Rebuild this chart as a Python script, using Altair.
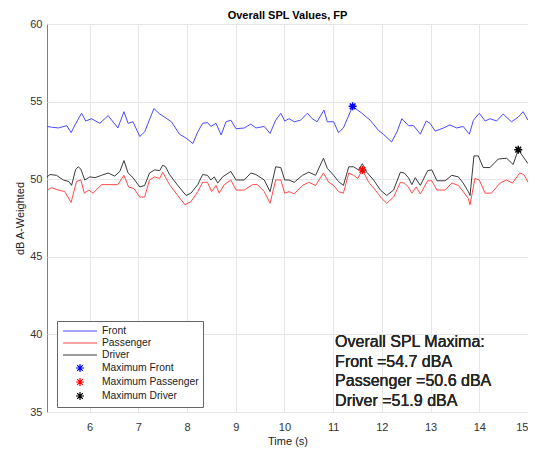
import altair as alt
import pandas as pd

# ---- data ----
front_t = [5.125, 5.22, 5.36, 5.53, 5.62, 5.70, 5.835, 5.92, 6.04, 6.21, 6.38, 6.58, 6.705, 6.79, 6.89,
           7.03, 7.13, 7.32, 7.44, 7.54, 7.68, 7.845, 7.98, 8.12, 8.22, 8.32, 8.42, 8.49, 8.595, 8.70,
           8.80, 8.90, 9.005, 9.175, 9.31, 9.415, 9.585, 9.705, 9.82, 9.925, 10.005, 10.095, 10.20,
           10.33, 10.47, 10.57, 10.67, 10.81, 10.88, 11.01, 11.11, 11.21, 11.40, 11.59, 11.76, 11.93,
           12.03, 12.20, 12.31, 12.41, 12.545, 12.65, 12.79, 12.91, 12.99, 13.095, 13.265, 13.40,
           13.535, 13.67, 13.795, 13.88, 14.00, 14.12, 14.22, 14.355, 14.49, 14.66, 14.80, 14.90,
           15.00, 15.125]
front_v = [53.4, 53.35, 53.3, 53.45, 53.0, 53.5, 54.25, 53.75, 53.9, 53.6, 54.1, 53.3, 54.35, 53.6, 53.7,
           52.75, 53.05, 54.55, 54.2, 54.0, 53.7, 52.9, 52.65, 52.3, 53.05, 53.6, 53.65, 53.4, 53.6, 52.85,
           53.7, 53.8, 53.25, 53.3, 53.55, 53.3, 53.4, 52.95, 53.8, 54.25, 53.75, 53.9, 53.7,
           53.8, 54.25, 53.9, 53.7, 54.45, 53.7, 53.7, 53.0, 53.3, 54.7, 54.25, 53.8, 53.15,
           52.9, 52.4, 53.05, 53.9, 53.45, 53.45, 52.9, 53.75, 53.6, 53.1, 53.3, 53.5,
           53.3, 53.4, 52.9, 53.8, 54.25, 53.75, 53.9, 53.75, 54.2, 53.7, 54.0, 54.35,
           53.8, 53.6]

passenger_t = [5.125, 5.22, 5.36, 5.49, 5.62, 5.73, 5.82, 5.89, 5.985, 6.07, 6.245, 6.41, 6.58, 6.705,
               6.80, 6.91, 7.03, 7.13, 7.23, 7.335, 7.44, 7.50, 7.64, 7.81, 7.96, 8.08, 8.22, 8.32,
               8.42, 8.505, 8.595, 8.66, 8.765, 8.90, 9.005, 9.175, 9.345, 9.445, 9.585, 9.705, 9.82,
               9.925, 10.005, 10.095, 10.20, 10.37, 10.50, 10.64, 10.80, 10.91, 11.01, 11.11, 11.21,
               11.32, 11.42, 11.505, 11.60, 11.73, 11.865, 12.00, 12.10, 12.24, 12.38, 12.46, 12.545,
               12.615, 12.705, 12.79, 12.94, 13.025, 13.13, 13.30, 13.435, 13.57, 13.67, 13.775,
               13.81, 13.91, 14.00, 14.12, 14.25, 14.425, 14.56, 14.68, 14.83, 14.915, 15.00, 15.125]
passenger_v = [49.3, 49.45, 49.3, 49.2, 48.5, 49.85, 49.95, 49.1, 49.3, 49.1, 49.65, 49.65, 49.65, 50.25,
               49.5, 49.4, 48.85, 48.85, 49.95, 50.15, 50.05, 50.45, 49.65, 48.95, 48.35, 48.55, 49.2, 49.8,
               49.8, 49.2, 49.6, 49.1, 49.65, 49.95, 49.3, 49.3, 49.65, 49.65, 49.2, 48.45, 49.95,
               49.95, 49.1, 49.2, 49.05, 49.6, 49.8, 49.6, 50.4, 49.8, 49.6, 49.2, 49.1,
               50.4, 50.25, 50.05, 50.6, 49.8, 49.3, 48.75, 48.45, 48.85, 49.8, 49.75, 49.5,
               49.1, 49.5, 49.05, 49.9, 49.9, 49.3, 49.3, 49.75, 49.6, 49.2, 48.75,
               48.35, 50.05, 49.95, 49.1, 49.1, 49.75, 49.95, 49.75, 50.4, 50.3, 49.8, 49.5]

driver_t = [5.125, 5.186, 5.32, 5.46, 5.575, 5.63, 5.71, 5.765, 5.82, 5.90, 6.005, 6.11, 6.245, 6.38,
            6.515, 6.62, 6.705, 6.79, 6.89, 7.03, 7.13, 7.23, 7.335, 7.44, 7.50, 7.56, 7.64, 7.81,
            7.98, 8.08, 8.22, 8.32, 8.42, 8.49, 8.56, 8.63, 8.73, 8.90, 9.005, 9.175, 9.31, 9.415,
            9.585, 9.705, 9.82, 9.925, 10.005, 10.095, 10.20, 10.37, 10.50, 10.64, 10.80, 10.88,
            11.01, 11.11, 11.21, 11.32, 11.42, 11.52, 11.60, 11.69, 11.83, 11.97, 12.10, 12.24,
            12.38, 12.46, 12.545, 12.615, 12.685, 12.79, 12.94, 13.025, 13.13, 13.30, 13.435, 13.57,
            13.67, 13.775, 13.81, 13.89, 13.98, 14.08, 14.22, 14.39, 14.56, 14.695, 14.80, 14.90,
            15.00, 15.125]
driver_v = [50.15, 50.3, 50.25, 49.95, 49.85, 49.6, 50.6, 50.8, 50.65, 49.95, 50.15, 50.1, 50.25, 50.4,
            50.2, 50.5, 51.2, 50.4, 50.1, 49.5, 49.6, 50.4, 50.6, 50.55, 50.9, 50.8, 50.3, 49.6,
            48.95, 49.1, 49.65, 50.3, 50.25, 49.95, 50.15, 49.75, 50.15, 50.5, 49.95, 49.95, 50.4, 50.3,
            49.95, 49.2, 50.8, 50.75, 49.95, 49.95, 49.8, 50.25, 50.45, 50.25, 51.35, 50.7,
            50.25, 49.85, 49.6, 50.8, 50.8, 50.6, 51.0, 50.45, 49.95, 49.3, 48.95, 49.3,
            50.45, 50.4, 50.1, 49.65, 50.1, 49.6, 50.55, 50.6, 49.9, 49.9, 50.25, 50.15,
            49.75, 49.2, 48.95, 51.5, 51.5, 50.75, 50.75, 51.3, 51.35, 50.95, 51.9, 51.45,
            51.0, 51.1]

series_names = ["Front", "Passenger", "Driver"]
max_labels = ["Maximum Front", "Maximum Passenger", "Maximum Driver"]
max_t = [11.40, 11.60, 14.80]
max_v = [54.7, 50.6, 51.9]

x_ticks = [6, 7, 8, 9, 10, 11, 12, 13, 14, 15]
y_ticks = [35, 40, 45, 50, 55, 60]

# ---- tables ----
lines_df = pd.concat([
    pd.DataFrame({"t": front_t, "v": front_v, "series": "Front"}),
    pd.DataFrame({"t": passenger_t, "v": passenger_v, "series": "Passenger"}),
    pd.DataFrame({"t": driver_t, "v": driver_v, "series": "Driver"}),
], ignore_index=True)
max_df = pd.DataFrame({"t": max_t, "v": max_v, "series": max_labels})

annot_text = ["Overall SPL Maxima:"] + [
    f"{n} ={v} dBA" for n, v in zip(series_names, max_v)
]

FONT = "Liberation Sans"
legend_labels = series_names + max_labels
colors = ["#4a4aff", "#ff4a4a", "#3a3a3a", "#0000ff", "#ff0000", "#000000"]
LINE = "M-3.4,0L3.4,0"
STAR = "M-0.8,0L0.8,0M0,-0.8L0,0.8M-0.57,-0.57L0.57,0.57M-0.57,0.57L0.57,-0.57"
shapes = [LINE, LINE, LINE, STAR, STAR, STAR]

x_enc = alt.X("t:Q", scale=alt.Scale(domain=[5.125, 15.0], nice=False, zero=False),
              axis=alt.Axis(values=x_ticks, title="Time (s)", format="d", labelFlush=True))
y_enc = alt.Y("v:Q", scale=alt.Scale(domain=[35, 60], nice=False, zero=False),
              axis=alt.Axis(values=y_ticks, title="dB A-Weighted", format="d"))

leg = alt.Legend(title=None)
color_enc = alt.Color("series:N", scale=alt.Scale(domain=legend_labels, range=colors), legend=leg)
shape_enc = alt.Shape("series:N", scale=alt.Scale(domain=legend_labels, range=shapes), legend=leg)

lines = alt.Chart(lines_df).mark_line(strokeWidth=1, clip=True).encode(
    x=x_enc, y=y_enc, color=color_enc, order="t:Q")

points = alt.Chart(max_df).mark_point(filled=False, size=100, strokeWidth=1.5, opacity=1).encode(
    x="t:Q", y="v:Q", color=color_enc, shape=shape_enc)

annot = alt.Chart(max_df).mark_text(
    align="left", baseline="top", fontSize=16, fontWeight="normal", lineHeight=19.5,
    font=FONT, color="#262626"
).encode(x=alt.datum(11.04), y=alt.datum(40.0), text=alt.value(annot_text))

chart = alt.layer(lines, points, annot).properties(
    width=481, height=388,
    autosize="none",
    padding={"left": 39, "top": 16, "right": 0, "bottom": 38},
    title=alt.Title("Overall SPL Values, FP", fontSize=11, fontWeight="bold", font=FONT,
                    color="#000000", offset=0, dy=3, anchor="middle", frame="group"),
).configure_view(
    stroke="#7f7f7f", strokeWidth=1
).configure_axis(
    grid=True, gridColor="#e6e6e6", gridWidth=1, domain=False, ticks=False,
    labelFont=FONT, labelFontSize=11, labelColor="#333333",
    titleFont=FONT, titleFontSize=11, titleFontWeight="normal", titleColor="#222222",
).configure_axisX(
    labelPadding=9, titlePadding=3
).configure_axisY(
    labelPadding=5, titleFontSize=11, titlePadding=4
).configure_legend(
    orient="none", legendX=10, legendY=297, fillColor="white", strokeColor="#666666",
    padding=4, symbolSize=100, symbolStrokeWidth=1.2, symbolOffset=13, labelOffset=16,
    labelFont=FONT, labelFontSize=10.3, labelColor="#222222", rowPadding=0,
)

chart.save("out.html", embed_options={"renderer": "svg", "actions": False})
